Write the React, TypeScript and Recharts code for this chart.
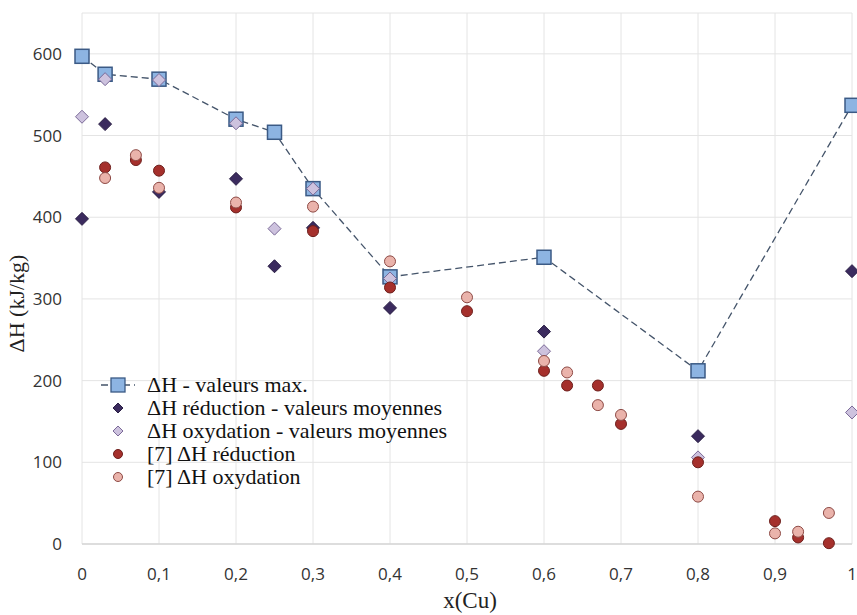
import React from 'react';
import { ScatterChart, Scatter, XAxis, YAxis, CartesianGrid } from 'recharts';

// x(Cu) positions
const maxX = [0, 0.03, 0.1, 0.2, 0.25, 0.3, 0.4, 0.6, 0.8, 1];
const maxY = [597, 575, 569, 520, 504, 435, 327, 351, 212, 537];

const moyX = [0, 0.03, 0.1, 0.2, 0.25, 0.3, 0.4, 0.6, 0.8, 1];
const reductionMoy = [398, 514, 431, 447, 340, 387, 289, 260, 132, 334];
const oxydationMoy = [523, 569, 568, 515, 386, 435, 325, 236, 106, 161];

const refX = [0.03, 0.07, 0.1, 0.2, 0.3, 0.4, 0.5, 0.6, 0.63, 0.67, 0.7, 0.8, 0.9, 0.93, 0.97];
const refReduction = [461, 470, 457, 412, 383, 314, 285, 212, 194, 194, 147, 100, 28, 8, 1];
const refOxydation = [448, 476, 436, 418, 413, 346, 302, 224, 210, 170, 158, 58, 13, 15, 38];

const xTicks = [0, 0.1, 0.2, 0.3, 0.4, 0.5, 0.6, 0.7, 0.8, 0.9, 1];
const yTicks = [0, 100, 200, 300, 400, 500, 600];

const seriesNames = [
  'ΔH - valeurs max.',
  'ΔH réduction - valeurs moyennes',
  'ΔH oxydation - valeurs moyennes',
  '[7] ΔH réduction',
  '[7] ΔH oxydation',
];

const zip = (xs: number[], ys: number[]) => xs.map((x, i) => ({ x, y: ys[i] }));

const SERIF = "'Liberation Serif', 'DejaVu Serif', serif";
const SANS = "'Liberation Sans Narrow', 'Open Sans', sans-serif";

const Square = (p: any) => (
  <rect x={p.cx - 7} y={p.cy - 7} width={14} height={14} fill="#8db4e2" stroke="#3b5a85" strokeWidth={1.5} />
);
const Diamond = (fill: string, stroke: string, r: number) => (p: any) => (
  <polygon
    points={`${p.cx},${p.cy - r} ${p.cx + r},${p.cy} ${p.cx},${p.cy + r} ${p.cx - r},${p.cy}`}
    fill={fill}
    stroke={stroke}
    strokeWidth={1}
  />
);
const Dot = (fill: string, stroke: string) => (p: any) => (
  <circle cx={p.cx} cy={p.cy} r={5.5} fill={fill} stroke={stroke} strokeWidth={1} />
);

const DarkDiamond = Diamond('#3b2b5e', '#2a1f45', 6.5);
const LightDiamond = Diamond('#cdc2de', '#7b6a98', 6.5);
const RedDot = Dot('#a5302c', '#6e1f1c');
const PinkDot = Dot('#eab3ab', '#8e4a45');

const legendIcons = [
  <g>
    <line x1={2} y1={10} x2={36} y2={10} stroke="#44546a" strokeWidth={1.3} strokeDasharray="7 4" />
    <rect x={12} y={3} width={14} height={14} fill="#8db4e2" stroke="#3b5a85" strokeWidth={1.3} />
  </g>,
  <polygon points="19,5 24,10 19,15 14,10" fill="#3b2b5e" stroke="#2a1f45" />,
  <polygon points="19,5 24,10 19,15 14,10" fill="#cdc2de" stroke="#7b6a98" />,
  <circle cx={19} cy={10} r={4.5} fill="#a5302c" stroke="#6e1f1c" />,
  <circle cx={19} cy={10} r={4.5} fill="#eab3ab" stroke="#8e4a45" />,
];

const ChartLegend = () => (
  <div style={{ position: 'absolute', left: 99, top: 373, fontFamily: SERIF, fontSize: 22, color: '#111' }}>
    {seriesNames.map((name, i) => (
      <div key={name} style={{ display: 'flex', alignItems: 'center', height: 23 }}>
        <svg width={40} height={20}>{legendIcons[i]}</svg>
        <span style={{ marginLeft: 8, whiteSpace: 'nowrap' }}>{name}</span>
      </div>
    ))}
  </div>
);

const App: React.FC = () => {
  return (
    <div style={{ position: 'absolute', left: 0, top: 0, width: 857, height: 615, background: '#fff', overflow: 'hidden' }}>
      <ScatterChart width={857} height={615} margin={{ top: 13, right: 5, bottom: 41, left: 22 }}>
        <CartesianGrid stroke="#e4e4e4" />
        <XAxis
          dataKey="x"
          type="number"
          domain={[0, 1]}
          ticks={xTicks}
          height={30}
          tickSize={0}
          tickMargin={24}
          tickLine={false}
          axisLine={{ stroke: '#d6d6d6', strokeWidth: 1.5 }}
          tickFormatter={(v: number) => String(v).replace('.', ',')}
          tick={{ fill: '#333', fontSize: 17, fontFamily: SANS }}
          label={{
            content: (props: any) => {
              const vb = props.viewBox;
              return (
                <text x={vb.x + vb.width / 2 + 3} y={vb.y + 64} textAnchor="middle" fontFamily={SERIF} fontSize={23} fill="#222">
                  x(Cu)
                </text>
              );
            },
          }}
        />
        <YAxis
          dataKey="y"
          type="number"
          domain={[0, 650]}
          ticks={yTicks}
          width={60}
          tickSize={0}
          tickMargin={20}
          tickLine={false}
          axisLine={false}
          tick={{ fill: '#333', fontSize: 17, fontFamily: SANS }}
          label={{
            content: (props: any) => {
              const vb = props.viewBox;
              const cy = vb.y + vb.height / 2 + 25;
              return (
                <text
                  x={24}
                  y={cy}
                  transform={`rotate(-90, 24, ${cy})`}
                  textAnchor="middle"
                  fontFamily={SERIF}
                  fontSize={22}
                  fill="#222"
                >
                  ΔH (kJ/kg)
                </text>
              );
            },
          }}
        />
        <Scatter
          name={seriesNames[0]}
          data={zip(maxX, maxY)}
          line={{ stroke: '#44546a', strokeWidth: 1.3, strokeDasharray: '7 4' }}
          shape={Square}
          isAnimationActive={false}
        />
        <Scatter name={seriesNames[1]} data={zip(moyX, reductionMoy)} shape={DarkDiamond} isAnimationActive={false} />
        <Scatter name={seriesNames[2]} data={zip(moyX, oxydationMoy)} shape={LightDiamond} isAnimationActive={false} />
        <Scatter name={seriesNames[3]} data={zip(refX, refReduction)} shape={RedDot} isAnimationActive={false} />
        <Scatter name={seriesNames[4]} data={zip(refX, refOxydation)} shape={PinkDot} isAnimationActive={false} />
      </ScatterChart>
      <ChartLegend />
    </div>
  );
};

export default App;
